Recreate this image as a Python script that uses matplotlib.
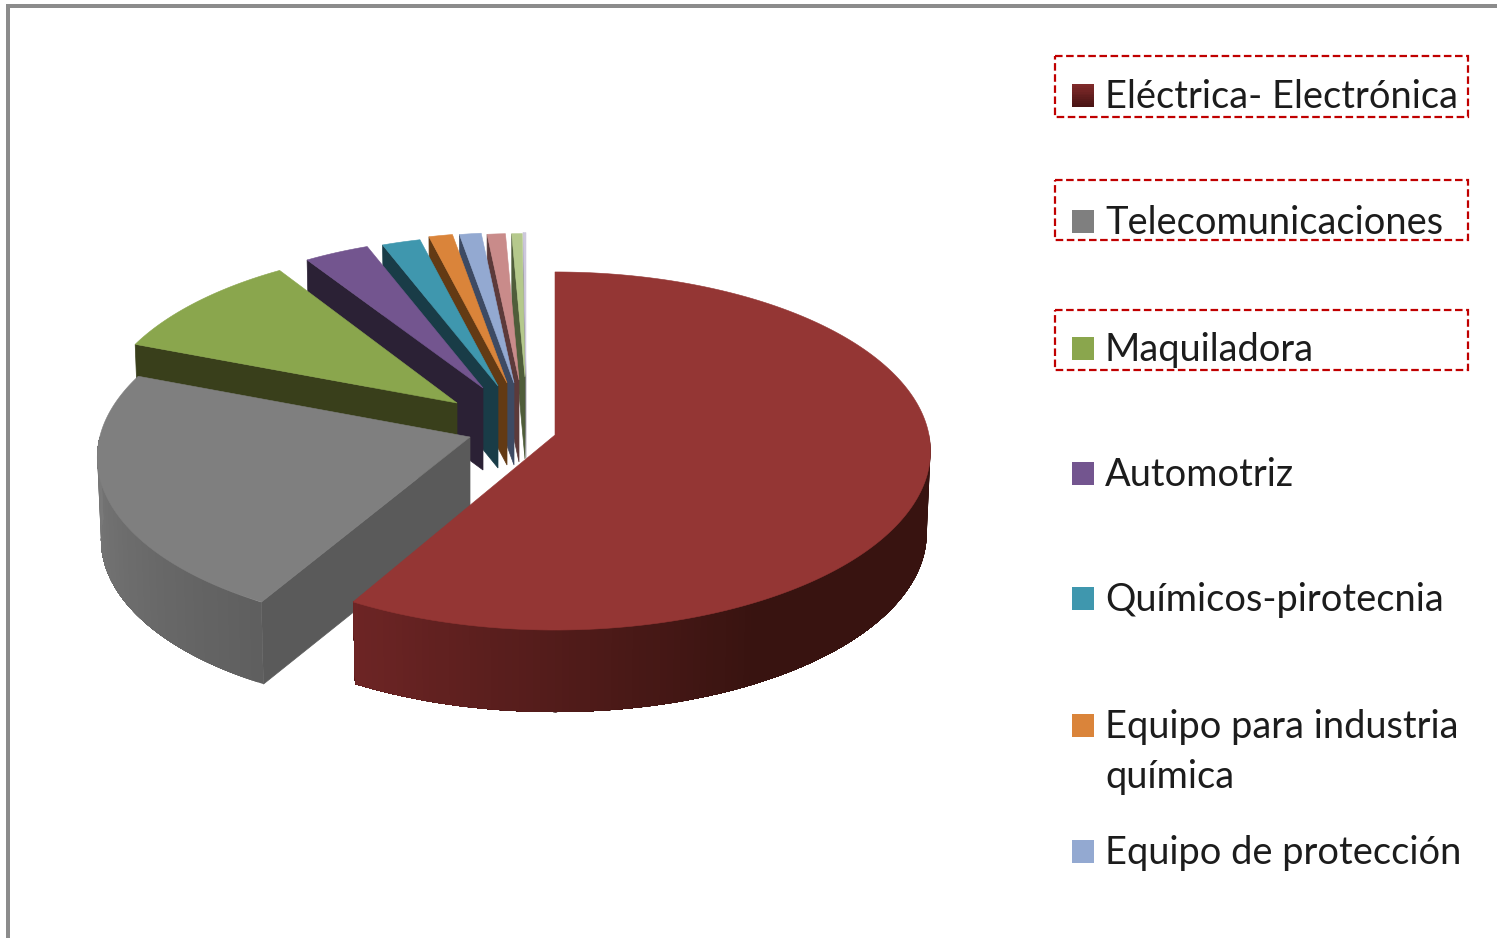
import numpy as np
import matplotlib
matplotlib.use('Agg')
import matplotlib.pyplot as plt
from matplotlib.colors import to_rgb
from matplotlib.patches import Polygon, Rectangle

# percent shares
labels = ['Eléctrica- Electrónica', 'Telecomunicaciones', 'Maquiladora', 'Automotriz',
          'Químicos-pirotecnia', 'Equipo para industria\nquímica', 'Equipo de protección']
values = [58.3, 22.5, 10.0, 3.3, 1.95, 1.2, 1.1, 0.95, 0.55, 0.15]

# styles
top_colors = ['#943634', '#7f7f7f', '#8aa64d', '#73558f', '#3f97ae', '#da843a', '#93a9d1', '#c98b8a', '#b5c98c', '#cdc8dc']
side_colors = ['#5a1a1a', '#5a5a5a', '#393f1b', '#2b2135', '#193c47', '#633a14', '#3d4a63', '#5c3a3a', '#4f5d3a', '#8f8a9c']
# wall shading: colour runs from start to end between these angles
wall_start = {0: '#381310', 1: '#5f5f5f'}
wall_end = {0: '#6e2525', 1: '#7a7a7a'}
wall_from = {0: 150, 1: 210}
wall_to = {0: 210, 1: 270}
legend_colors = ['#6a2020', '#7f7f7f', '#8aa64d', '#73558f', '#3f97ae', '#da843a', '#93a9d1']
legend_y = [95, 221, 348, 473, 598, 725, 851]
box_y = [(56, 117), (180, 240), (310, 370)]

# where each exploded slice has its point, its size and its lean
apex_x = [555, 470, 457, 483, 498, 507, 514, 519, 525, 526]
apex_y = [435, 437, 403, 388, 386, 383, 383, 380, 377, 376]
radius = [1, .99, .955, .92, .917, .917, .917, .89, .87, .87]
lean = [0, -10.3, -6, 0, 0, 0, 0, 0, 0, 0]

RX, RY, PERSP, DEPTH = 374, 177.6, 0.0893, 82
LINE_STEP = 50


def project(i, ang):
    # ang in degrees, clockwise from the top of the pie
    r = radius[i]
    X = r * np.sin(np.radians(ang))
    Y = -r * np.cos(np.radians(ang))
    d = 1 - PERSP * Y
    return apex_x[i] + RX * X / d + lean[i] * Y, apex_y[i] + RY * Y / d


def drop(px, py, i):
    # same point on the underside of the slice
    return apex_x[i] + (px - apex_x[i]) * 0.99, py + DEPTH


fig = plt.figure(figsize=(14.97, 9.38), dpi=100)
ax = fig.add_axes([0, 0, 1, 1])
ax.set_xlim(0, 1497)
ax.set_ylim(938, 0)
ax.axis('off')

edges = np.concatenate([[0], np.cumsum(values)]) / np.sum(values) * 360

# back slices first, the big front ones last
order = list(range(len(values) - 1, -1, -1))
for n, i in enumerate(order):
    a0, a1 = edges[i], edges[i + 1]
    z = 2 + n
    # radial face at the start of the slice
    px, py = project(i, a0)
    qx, qy = drop(px, py, i)
    face = [(apex_x[i], apex_y[i]), (px, py), (qx, qy), (apex_x[i], apex_y[i] + DEPTH)]
    ax.add_patch(Polygon(face, closed=True, fc=side_colors[i], ec=side_colors[i], lw=.5, zorder=z))
    # outer wall, only the part turned to the viewer
    lo, hi = max(a0, 90), min(a1, 270)
    if i in wall_start and hi > lo:
        steps = np.arange(lo, hi, 1.0)
        c0, c1 = np.array(to_rgb(wall_start[i])), np.array(to_rgb(wall_end[i]))
        for s0 in steps:
            t = np.clip((s0 - wall_from[i]) / (wall_to[i] - wall_from[i]), 0, 1)
            col = c0 + (c1 - c0) * t
            # each strip runs on to the far end, the next one paints over it: no seams
            arc = np.linspace(s0, hi, max(2, int(hi - s0) + 2))
            upper = [project(i, a) for a in arc]
            lower = [drop(p[0], p[1], i) for p in upper]
            ax.add_patch(Polygon(upper + lower[::-1], closed=True, fc=col, ec='none', zorder=z))
    # top
    arc = np.arange(a0, a1, 0.5)
    arc = np.append(arc, a1)
    pts = [(apex_x[i], apex_y[i])] + [project(i, a) for a in arc]
    ax.add_patch(Polygon(pts, closed=True, fc=top_colors[i], ec=top_colors[i], lw=.4, zorder=z + .5))

# legend
for k, (name, col, y) in enumerate(zip(labels, legend_colors, legend_y)):
    if k == 0:
        # first key is shaded top to bottom
        shades = np.linspace(0, 1, 12)
        c0, c1 = np.array(to_rgb('#7f2a2a')), np.array(to_rgb('#4a1414'))
        for j, t in enumerate(shades):
            ax.add_patch(Rectangle((1072, y - 11 + j * 23 / 12), 22, 23 / 12 + .5, fc=c0 + (c1 - c0) * t, ec='none', zorder=30))
    else:
        ax.add_patch(Rectangle((1072, y - 11), 22, 23, fc=col, ec='none', zorder=30))
    for m, line in enumerate(name.split('\n')):
        ax.text(1105, y + 13 + m * LINE_STEP, line, family='Lato', fontsize=27.4, color='#1c1c1c',
                va='baseline', ha='left', zorder=31)

for y0, y1 in box_y:
    ax.add_patch(Rectangle((1055, y0), 413, y1 - y0, fc='none', ec='#c00000', lw=1.6, ls=(0, (3.4, 1.6)), zorder=32))

# frame of the pasted picture
ax.add_patch(Rectangle((6, 4), 1491, 4, fc='#8c8c8c', ec='none', zorder=40))
ax.add_patch(Rectangle((6, 4), 4, 934, fc='#8c8c8c', ec='none', zorder=40))

fig.savefig('out.png', dpi=100, facecolor='white')
